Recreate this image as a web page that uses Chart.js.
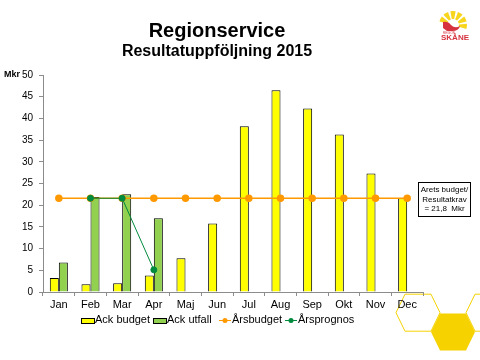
<!DOCTYPE html>
<html>
<head>
<meta charset="utf-8">
<script src="https://cdn.jsdelivr.net/npm/chart.js@4.4.1/dist/chart.umd.min.js"></script>
<style>
html,body{margin:0;padding:0;background:#fff;}
#wrap{width:480px;height:360px;position:relative;}
</style>
</head>
<body>
<div id="wrap"><canvas id="c" width="480" height="360"></canvas></div>
<script>
const months = ["Jan","Feb","Mar","Apr","Maj","Jun","Jul","Aug","Sep","Okt","Nov","Dec"];
const ackBudget = [3.2, 1.8, 2.0, 3.8, 7.8, 15.8, 38.2, 46.5, 42.3, 36.3, 27.3, 21.6];
const ackUtfall = [6.8, 21.9, 22.5, 17.0, null, null, null, null, null, null, null, null];
const arsbudget = [21.6, 21.6, 21.6, 21.6, 21.6, 21.6, 21.6, 21.6, 21.6, 21.6, 21.6, 21.6];
const arsprognos = [null, 21.6, 21.6, 5.1, null, null, null, null, null, null, null, null];
const yTicks = [0,5,10,15,20,25,30,35,40,45,50];
const titleText = "Regionservice";
const subtitleText = "Resultatuppföljning 2015";
const unitText = "Mkr";
const noteLines = ["Arets budget/", "Resultatkrav", "= 21,8  Mkr"];

const FONT = "'Liberation Sans', Arial, sans-serif";
const AXIS = "#8c8c8c";

const decor = {
  id: 'decor',
  beforeDraw(chart) {
    const ctx = chart.ctx;
    ctx.save();
    function hex(cx, cy, fill) {
      ctx.beginPath();
      ctx.moveTo(cx - 22, cy);
      ctx.lineTo(cx - 13, cy - 18.5);
      ctx.lineTo(cx + 13, cy - 18.5);
      ctx.lineTo(cx + 22, cy);
      ctx.lineTo(cx + 13, cy + 18.5);
      ctx.lineTo(cx - 13, cy + 18.5);
      ctx.closePath();
      if (fill) { ctx.fillStyle = '#f5d200'; ctx.fill(); }
      else { ctx.strokeStyle = '#f5d200'; ctx.lineWidth = 1; ctx.stroke(); }
    }
    hex(418, 312.7, false);
    hex(488, 312.7, false);
    hex(453, 332, true);
    ctx.restore();
  },
  afterDraw(chart) {
    const ctx = chart.ctx;
    ctx.save();
    ctx.fillStyle = '#000';
    ctx.textAlign = 'center';
    ctx.textBaseline = 'alphabetic';
    ctx.font = "bold 20px " + FONT;
    ctx.fillText(titleText, 217, 37);
    ctx.font = "bold 16px " + FONT;
    ctx.fillText(subtitleText, 217, 56);
    ctx.textAlign = 'left';
    ctx.textBaseline = 'middle';
    ctx.font = "bold 9px " + FONT;
    ctx.fillText(unitText, 4, 75);
    // note box
    ctx.fillStyle = '#fff';
    ctx.fillRect(418.5, 182.5, 52, 34);
    ctx.strokeStyle = '#000';
    ctx.lineWidth = 1;
    ctx.strokeRect(418.5, 182.5, 52, 34);
    ctx.fillStyle = '#000';
    ctx.textAlign = 'center';
    ctx.font = "8px " + FONT;
    noteLines.forEach((t, i) => ctx.fillText(t, 444.5, 190 + i * 9.5));
    // legend
    const items = chart.data.datasets;
    const xs = [81, 153, 219, 285];
    const ly = 320;
    ctx.font = "11px " + FONT;
    ctx.textAlign = 'left';
    ctx.textBaseline = 'middle';
    items.forEach((ds, i) => {
      const x = xs[i];
      if (ds.type === 'line') {
        ctx.strokeStyle = ds.borderColor;
        ctx.lineWidth = 1;
        ctx.beginPath(); ctx.moveTo(x, ly + 0.5); ctx.lineTo(x + 12, ly + 0.5); ctx.stroke();
        ctx.fillStyle = ds.pointBackgroundColor;
        ctx.beginPath(); ctx.arc(x + 6, ly + 0.5, 2.5, 0, Math.PI * 2); ctx.fill();
        ctx.fillStyle = '#000';
        ctx.fillText(ds.label, x + 13, ly);
      } else {
        ctx.fillStyle = ds.backgroundColor;
        ctx.fillRect(x, ly - 2, 13, 5);
        ctx.strokeStyle = '#000';
        ctx.strokeRect(x + 0.5, ly - 1.5, 13, 5);
        ctx.fillStyle = '#000';
        ctx.fillText(ds.label, x + 14, ly);
      }
    });
    // logo
    ctx.fillStyle = '#f7d51d';
    const lcx = 453, lcy = 25;
    for (let k = 0; k < 6; k++) {
      const a0 = (-165 + k * 32) * Math.PI / 180;
      const a1 = a0 + 22 * Math.PI / 180;
      ctx.beginPath();
      ctx.moveTo(lcx + 6 * Math.cos(a0), lcy + 6 * Math.sin(a0));
      ctx.lineTo(lcx + 14 * Math.cos(a0), lcy + 14 * Math.sin(a0));
      ctx.arc(lcx, lcy, 14, a0, a1);
      ctx.lineTo(lcx + 6 * Math.cos(a1), lcy + 6 * Math.sin(a1));
      ctx.closePath();
      ctx.fill();
    }
    ctx.fillStyle = '#d6333f';
    ctx.beginPath();
    ctx.moveTo(443, 22);
    ctx.quadraticCurveTo(448, 21, 451, 25);
    ctx.quadraticCurveTo(455, 29, 460, 26);
    ctx.quadraticCurveTo(459, 31, 452, 31);
    ctx.lineTo(447, 31);
    ctx.lineTo(443, 28);
    ctx.closePath();
    ctx.fill();
    ctx.font = "bold 8px " + FONT;
    ctx.textAlign = 'center';
    ctx.textBaseline = 'alphabetic';
    ctx.fillText("SKÅNE", 455, 40);
    ctx.font = "3px " + FONT;
    ctx.fillText("REGION", 449, 34);
    ctx.restore();
  }
};

new Chart(document.getElementById('c'), {
  data: {
    labels: months,
    datasets: [
      { type: 'bar', label: 'Ack budget', data: ackBudget, backgroundColor: '#ffff00', borderColor: '#000', borderWidth: 1, categoryPercentage: 0.57, barPercentage: 1.0, order: 3 },
      { type: 'bar', label: 'Ack utfall', data: ackUtfall, backgroundColor: '#92d050', borderColor: '#000', borderWidth: 1, categoryPercentage: 0.57, barPercentage: 1.0, order: 3 },
      { type: 'line', label: 'Årsbudget', data: arsbudget, borderColor: '#ff9900', backgroundColor: '#ff9900', pointBackgroundColor: '#ff9900', pointBorderColor: '#ff9900', pointRadius: 3, borderWidth: 1.5, order: 2 },
      { type: 'line', label: 'Årsprognos', data: arsprognos, borderColor: '#008a3e', backgroundColor: '#008a3e', pointBackgroundColor: '#008a3e', pointBorderColor: '#008a3e', pointRadius: 3, borderWidth: 1, order: 1, spanGaps: false }
    ]
  },
  options: {
    responsive: false,
    animation: false,
    layout: { padding: { left: 0, right: 57, top: 75, bottom: 48 } },
    plugins: { legend: { display: false }, title: { display: false }, tooltip: { enabled: false } },
    scales: {
      x: {
        offset: true,
        grid: { offset: true, drawOnChartArea: false, drawTicks: true, tickLength: 4, color: AXIS },
        border: { color: AXIS, width: 1 },
        ticks: { color: '#000', font: { family: FONT, size: 11 }, padding: 2, maxRotation: 0, autoSkip: false },
        afterFit(s) { s.height = 20; }
      },
      y: {
        min: 0, max: 50,
        afterBuildTicks(s) { s.ticks = yTicks.map(v => ({ value: v })); },
        grid: { drawOnChartArea: false, drawTicks: true, tickLength: 4, color: AXIS },
        border: { color: AXIS, width: 1 },
        ticks: { color: '#000', font: { family: FONT, size: 10 }, padding: 6 },
        afterFit(s) { s.width = 43; }
      }
    }
  },
  plugins: [decor]
});
</script>
</body>
</html>
